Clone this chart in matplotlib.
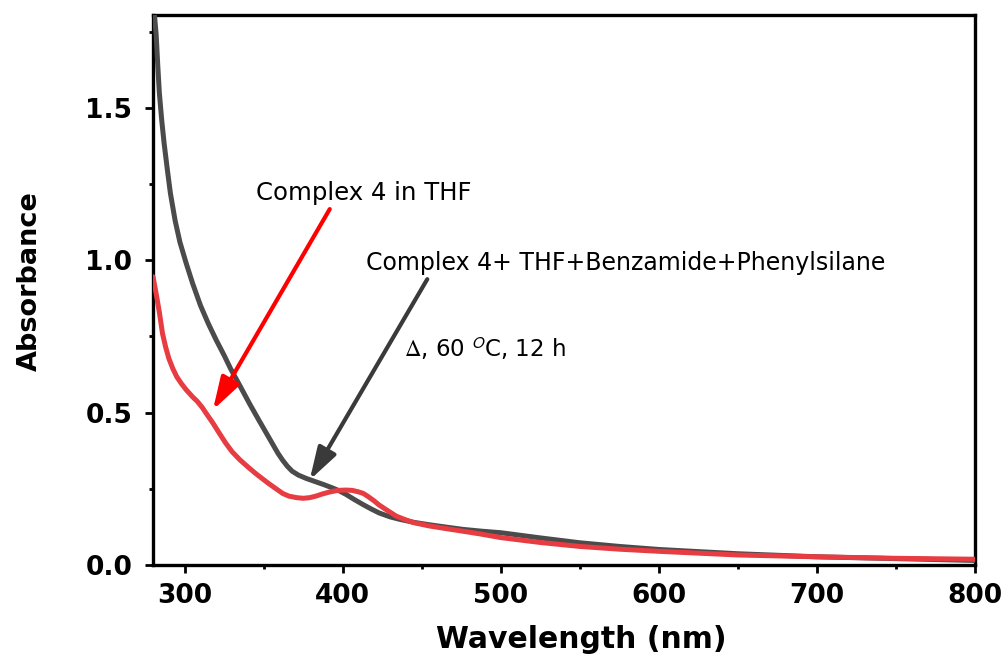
import matplotlib
matplotlib.use("Agg")
import matplotlib.pyplot as plt
from matplotlib.ticker import MultipleLocator

plt.rcParams["font.family"] = ["DejaVu Sans"]

# UV-Vis spectra: wavelength (nm) and absorbance
wl_after = [280, 281, 282, 283, 284, 285.5, 287, 289, 291, 294, 297, 301, 305, 310,
            315, 320, 325, 329, 335, 341, 347, 352, 356, 359, 362, 365, 368, 372,
            377, 383, 388, 394, 398, 402, 407, 413, 418, 423, 430, 436, 445, 455,
            466, 476, 488, 500, 525, 550, 575, 600, 650, 700, 750, 800]
abs_after = [1.86, 1.80, 1.74, 1.64, 1.55, 1.46, 1.385, 1.30, 1.22, 1.13, 1.06, 0.99,
             0.925, 0.852, 0.792, 0.738, 0.688, 0.645, 0.588, 0.53, 0.475, 0.43,
             0.394, 0.367, 0.344, 0.324, 0.308, 0.295, 0.284, 0.273, 0.264, 0.252,
             0.243, 0.232, 0.216, 0.198, 0.184, 0.171, 0.158, 0.150, 0.140, 0.132,
             0.124, 0.117, 0.111, 0.106, 0.089, 0.073, 0.061, 0.051, 0.037, 0.027,
             0.021, 0.015]

wl_thf = [280, 282, 284, 286, 288, 290, 292.5, 295, 298, 301, 305, 308, 311, 314,
          318, 322, 326, 330, 335, 340, 345, 353, 362, 366, 371, 375, 379, 383, 387,
          392, 397, 402, 406, 410, 413, 416, 420, 423, 428, 434, 440, 445, 455, 466,
          476, 487, 500, 525, 550, 575, 600, 650, 700, 750, 800]
abs_thf = [0.946, 0.89, 0.83, 0.76, 0.715, 0.678, 0.645, 0.618, 0.595, 0.575, 0.552,
           0.537, 0.518, 0.495, 0.465, 0.432, 0.40, 0.372, 0.345, 0.322, 0.30, 0.268,
           0.235, 0.226, 0.221, 0.219, 0.221, 0.226, 0.233, 0.24, 0.245, 0.246, 0.245,
           0.24, 0.235, 0.225, 0.21, 0.197, 0.18, 0.16, 0.148, 0.139, 0.128, 0.119,
           0.111, 0.102, 0.09, 0.074, 0.061, 0.052, 0.045, 0.033, 0.027, 0.022, 0.019]

x_ticks = [300, 400, 500, 600, 700, 800]
y_ticks = [0.0, 0.5, 1.0, 1.5]

label_thf = "Complex 4 in THF"
label_after = "Complex 4+ THF+Benzamide+Phenylsilane"
label_cond = r"$\Delta$, 60 $^{\mathsf{O}}$C, 12 h"

fig = plt.figure(figsize=(10.08, 6.6), dpi=100)
ax = fig.add_axes([0.1518, 0.1439, 0.8155, 0.8334])

ax.plot(wl_after, abs_after, color="#4b4b4b", lw=3.6, solid_capstyle="round",
        solid_joinstyle="round", zorder=3)
ax.plot(wl_thf, abs_thf, color="#e63c42", lw=3.6, solid_capstyle="round",
        solid_joinstyle="round", zorder=4)

ax.set_xlim(280, 800)
ax.set_ylim(0, 1.805)
ax.set_xticks(x_ticks)
ax.set_yticks(y_ticks)
ax.xaxis.set_minor_locator(MultipleLocator(50))
ax.yaxis.set_minor_locator(MultipleLocator(0.25))
ax.set_yticklabels([f"{v:.1f}" for v in y_ticks])

for s in ax.spines.values():
    s.set_linewidth(2.4)
ax.tick_params(which="major", direction="out", length=6, width=2, labelsize=19)
ax.tick_params(which="minor", direction="out", length=3, width=2)
ax.tick_params(axis="x", pad=7)
ax.tick_params(axis="y", pad=9)
for lab in ax.get_xticklabels() + ax.get_yticklabels():
    lab.set_fontweight("bold")

ax.set_xlabel("Wavelength (nm)", fontsize=21.5, fontweight="bold", va="center")
ax.xaxis.set_label_coords(0.5207, -0.136)
ax.set_ylabel("Absorbance", fontsize=19.5, fontweight="bold", va="center")
ax.yaxis.set_label_coords(-0.1496, 0.516)

# annotation arrows
head = "-|>,head_length=0.55,head_width=0.17"
ax.annotate("", xy=(317.9, 0.509), xytext=(391.8, 1.168),
            arrowprops=dict(arrowstyle=head, color="#ff0000", lw=3,
                            mutation_scale=36, shrinkA=0, shrinkB=0), zorder=5)
ax.annotate("", xy=(379.1, 0.279), xytext=(453.5, 0.938),
            arrowprops=dict(arrowstyle=head, color="#3a3a3a", lw=3,
                            mutation_scale=36, shrinkA=0, shrinkB=0), zorder=5)

ax.text(345, 1.221, label_thf, fontsize=17.6, ha="left", va="center")
ax.text(414.8, 0.991, label_after, fontsize=17, ha="left", va="center")
ax.text(439, 0.709, label_cond, fontsize=16.5, ha="left", va="center",
        math_fontfamily="stix")

fig.savefig("out.png", dpi=100)
